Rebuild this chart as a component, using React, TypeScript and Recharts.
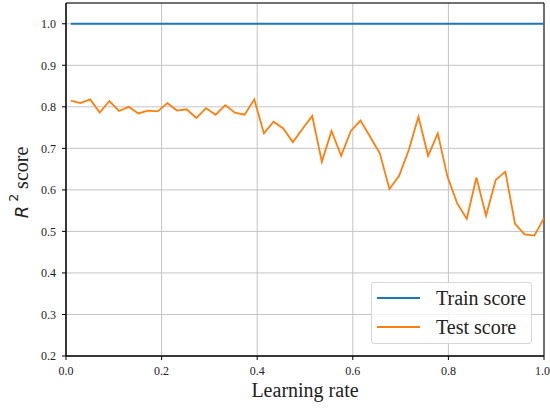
import React from "react";
import {
  LineChart,
  Line,
  XAxis,
  YAxis,
  CartesianGrid,
  Legend,
  ReferenceArea,
} from "recharts";

const learningRates = [
  0.01, 0.0302, 0.0504, 0.0706, 0.0908, 0.111, 0.1312, 0.1514, 0.1716, 0.1918,
  0.212, 0.2322, 0.2524, 0.2727, 0.2929, 0.3131, 0.3333, 0.3535, 0.3737, 0.3939,
  0.4141, 0.4343, 0.4545, 0.4747, 0.4949, 0.5151, 0.5353, 0.5555, 0.5757, 0.5959,
  0.6161, 0.6363, 0.6565, 0.6767, 0.6969, 0.7171, 0.7373, 0.7576, 0.7778, 0.798,
  0.8182, 0.8384, 0.8586, 0.8788, 0.899, 0.9192, 0.9394, 0.9596, 0.9798, 1.0,
];

const trainScores = [
  1, 1, 1, 1, 1, 1, 1, 1, 1, 1,
  1, 1, 1, 1, 1, 1, 1, 1, 1, 1,
  1, 1, 1, 1, 1, 1, 1, 1, 1, 1,
  1, 1, 1, 1, 1, 1, 1, 1, 1, 1,
  1, 1, 1, 1, 1, 1, 1, 1, 1, 1,
];

const testScores = [
  0.815, 0.809, 0.818, 0.786, 0.814, 0.79, 0.8, 0.784, 0.791, 0.789,
  0.809, 0.791, 0.794, 0.773, 0.797, 0.781, 0.804, 0.786, 0.781, 0.818,
  0.736, 0.764, 0.748, 0.715, 0.747, 0.778, 0.668, 0.742, 0.682, 0.742,
  0.767, 0.728, 0.688, 0.602, 0.634, 0.696, 0.776, 0.682, 0.736, 0.632,
  0.568, 0.53, 0.63, 0.538, 0.624, 0.644, 0.518, 0.493, 0.49, 0.532,
];

const xTicks = [0, 0.2, 0.4, 0.6, 0.8, 1.0];
const yTicks = [0.2, 0.3, 0.4, 0.5, 0.6, 0.7, 0.8, 0.9, 1.0];

const seriesNames = { train: "Train score", test: "Test score" };
const seriesColors = { train: "#1f77b4", test: "#ff7f0e" };

const data = learningRates.map((lr, i) => ({
  lr,
  train: trainScores[i],
  test: testScores[i],
}));

const SERIF = "'Liberation Serif', 'Times New Roman', serif";

const YLabel = (props: any) => {
  const vb = props.viewBox || { x: 66, y: 3, width: 0, height: 353 };
  const cx = 21;
  const cy = vb.y + vb.height / 2 + 3;
  return (
    <text
      x={cx}
      y={cy}
      transform={`rotate(-90, ${cx}, ${cy})`}
      textAnchor="middle"
      dominantBaseline="central"
      fontSize={20}
      fontFamily={SERIF}
      fill="#222"
    >
      <tspan fontFamily="'DejaVu Sans'" fontStyle="italic" fontSize={18}>
        R
      </tspan>
      <tspan fontFamily="'DejaVu Sans'" fontSize={12.5} dy={-8}>
        {"\u00a02"}
      </tspan>
      <tspan dy={8}>{"\u00a0score"}</tspan>
    </text>
  );
};

const LegendBox = () => (
  <div
    style={{
      width: 161,
      height: 62,
      boxSizing: "border-box",
      border: "1px solid #d6d6d6",
      borderRadius: 3,
      background: "rgba(255,255,255,0.8)",
      fontFamily: SERIF,
      fontSize: 20,
      color: "#222",
      position: "relative",
    }}
  >
    {(["train", "test"] as const).map((k, i) => (
      <div
        key={k}
        style={{
          position: "absolute",
          left: 5,
          top: 2 + i * 29,
          height: 26,
          display: "flex",
          alignItems: "center",
          whiteSpace: "nowrap",
        }}
      >
        <span
          style={{
            display: "inline-block",
            width: 43,
            height: 2,
            background: seriesColors[k],
            marginRight: 16,
          }}
        />
        <span>{seriesNames[k]}</span>
      </div>
    ))}
  </div>
);

export default function App() {
  return (
    <div style={{ position: "absolute", left: 0, top: 0, width: 550, height: 408 }}>
      <LineChart
        width={550}
        height={408}
        data={data}
        margin={{ top: 3, right: 6, bottom: 21, left: 6 }}
      >
        <CartesianGrid stroke="#c4c4c4" strokeWidth={1} />
        <XAxis
          dataKey="lr"
          type="number"
          domain={[0, 1]}
          ticks={xTicks}
          allowDataOverflow
          tickFormatter={(v: number) => v.toFixed(1)}
          height={31}
          tickSize={4}
          tickMargin={6}
          axisLine={{ stroke: "#000", strokeWidth: 1 }}
          tickLine={{ stroke: "#000" }}
          tick={{ fontFamily: SERIF, fontSize: 12, fill: "#222" }}
          label={{
            value: "Learning rate",
            position: "insideBottom",
            offset: -10,
            style: { fontFamily: SERIF, fontSize: 20, fill: "#222" },
          }}
        />
        <YAxis
          type="number"
          domain={[0.2, 1.05]}
          ticks={yTicks}
          allowDataOverflow
          tickFormatter={(v: number) => v.toFixed(1)}
          width={60}
          tickSize={4}
          tickMargin={6}
          axisLine={{ stroke: "#000", strokeWidth: 1 }}
          tickLine={{ stroke: "#000" }}
          tick={{ fontFamily: SERIF, fontSize: 12, fill: "#222" }}
          label={<YLabel />}
        />
        <ReferenceArea
          x1={0}
          x2={1}
          y1={0.2}
          y2={1.05}
          fill="none"
          stroke="#000"
          strokeWidth={1}
          ifOverflow="visible"
        />
        <Line
          dataKey="train"
          name={seriesNames.train}
          stroke={seriesColors.train}
          strokeWidth={1.8}
          dot={false}
          isAnimationActive={false}
        />
        <Line
          dataKey="test"
          name={seriesNames.test}
          stroke={seriesColors.test}
          strokeWidth={1.8}
          dot={false}
          isAnimationActive={false}
        />
        <Legend
          layout="horizontal"
          verticalAlign="middle"
          align="center"
          content={<LegendBox />}
          wrapperStyle={{ left: 371, top: 282, width: 161, height: 62 }}
        />
      </LineChart>
    </div>
  );
}
